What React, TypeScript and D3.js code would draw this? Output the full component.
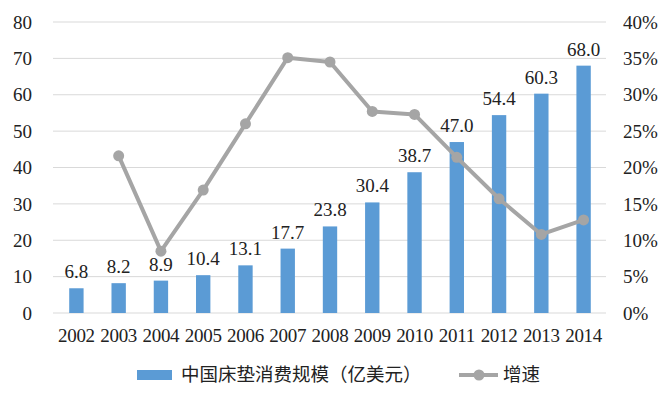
import React, { useEffect, useRef } from 'react';
import * as d3 from 'd3';

const years = ['2002', '2003', '2004', '2005', '2006', '2007', '2008', '2009', '2010', '2011', '2012', '2013', '2014'];
const scale = [6.8, 8.2, 8.9, 10.4, 13.1, 17.7, 23.8, 30.4, 38.7, 47.0, 54.4, 60.3, 68.0];
const growth: (number | null)[] = [null, 21.6, 8.5, 16.9, 26.0, 35.1, 34.5, 27.7, 27.3, 21.4, 15.7, 10.8, 12.8];
const leftTicks = [0, 10, 20, 30, 40, 50, 60, 70, 80];
const rightTicks = [0, 5, 10, 15, 20, 25, 30, 35, 40];
const barName = '中国床垫消费规模（亿美元）';
const lineName = '增速';

const W = 662;
const H = 394;
const BLUE = '#5b9bd5';
const GREY = '#a5a5a5';
const SERIF = "'Liberation Serif', 'DejaVu Serif', serif";
const CJK = "'Noto Sans CJK SC', sans-serif";

export default function App() {
  const ref = useRef<SVGSVGElement>(null);

  useEffect(() => {
    if (!ref.current) return;
    const svg = d3.select(ref.current);
    svg.selectAll('*').remove();

    const margin = { top: 22, right: 56, bottom: 81, left: 54 };
    const w = W - margin.left - margin.right;
    const h = H - margin.top - margin.bottom;

    const x = d3.scaleBand().domain(years).range([0, w]).paddingInner(0.66).paddingOuter(0.36);
    const y = d3.scaleLinear().domain([0, 80]).range([h, 0]);
    const y2 = d3.scaleLinear().domain([0, 40]).range([h, 0]);

    const g = svg.append('g').attr('transform', `translate(${margin.left},${margin.top})`);

    // grid
    g.selectAll('.grid')
      .data(leftTicks)
      .join('line')
      .attr('x1', -1).attr('x2', w)
      .attr('y1', (d) => y(d)).attr('y2', (d) => y(d))
      .attr('stroke', '#d9d9d9')
      .attr('stroke-width', 1);

    // left ticks
    g.selectAll('.lt')
      .data(leftTicks)
      .join('text')
      .attr('x', -22)
      .attr('y', (d) => y(d))
      .attr('dy', '0.35em')
      .attr('text-anchor', 'end')
      .style('font-family', SERIF)
      .style('font-size', '19px')
      .attr('fill', '#222')
      .text((d) => String(d));

    // right ticks
    g.selectAll('.rt')
      .data(rightTicks)
      .join('text')
      .attr('x', w + 17)
      .attr('y', (d) => y2(d))
      .attr('dy', '0.35em')
      .attr('text-anchor', 'start')
      .style('font-family', SERIF)
      .style('font-size', '19px')
      .attr('fill', '#222')
      .text((d) => `${d}%`);

    // bars
    g.selectAll('.bar')
      .data(scale)
      .join('rect')
      .attr('x', (_, i) => x(years[i])!)
      .attr('y', (d) => y(d))
      .attr('width', x.bandwidth())
      .attr('height', (d) => h - y(d))
      .attr('fill', BLUE);

    // bar labels
    g.selectAll('.val')
      .data(scale)
      .join('text')
      .attr('x', (_, i) => x(years[i])! + x.bandwidth() / 2)
      .attr('y', (d) => y(d) - 10)
      .attr('text-anchor', 'middle')
      .style('font-family', SERIF)
      .style('font-size', '19px')
      .attr('fill', '#222')
      .text((d) => d.toFixed(1));

    // year labels
    g.selectAll('.yr')
      .data(years)
      .join('text')
      .attr('x', (d) => x(d)! + x.bandwidth() / 2)
      .attr('y', h + 29)
      .attr('text-anchor', 'middle')
      .style('font-family', SERIF)
      .style('font-size', '19px')
      .style('letter-spacing', '-0.3px')
      .attr('fill', '#222')
      .text((d) => d);

    // growth line
    const pts = years
      .map((yr, i) => ({ yr, v: growth[i] }))
      .filter((d) => d.v !== null) as { yr: string; v: number }[];
    const line = d3.line<{ yr: string; v: number }>()
      .x((d) => x(d.yr)! + x.bandwidth() / 2)
      .y((d) => y2(d.v));
    g.append('path')
      .datum(pts)
      .attr('d', line)
      .attr('fill', 'none')
      .attr('stroke', GREY)
      .attr('stroke-width', 4)
      .attr('stroke-linejoin', 'round');
    g.selectAll('.pt')
      .data(pts)
      .join('circle')
      .attr('cx', (d) => x(d.yr)! + x.bandwidth() / 2)
      .attr('cy', (d) => y2(d.v))
      .attr('r', 5.5)
      .attr('fill', GREY);

    // legend
    const lg = svg.append('g').attr('transform', `translate(0,375)`);
    lg.append('rect').attr('x', 137).attr('y', -5).attr('width', 35).attr('height', 10).attr('fill', BLUE);
    lg.append('text')
      .attr('x', 181).attr('y', 0).attr('dy', '0.35em')
      .style('font-family', CJK).style('font-size', '18.5px').attr('fill', '#222')
      .text(barName);
    lg.append('line').attr('x1', 459).attr('x2', 498).attr('y1', 0).attr('y2', 0)
      .attr('stroke', GREY).attr('stroke-width', 4);
    lg.append('circle').attr('cx', 479).attr('cy', 0).attr('r', 5.5).attr('fill', GREY);
    lg.append('text')
      .attr('x', 503).attr('y', 0).attr('dy', '0.35em')
      .style('font-family', CJK).style('font-size', '18.5px').attr('fill', '#222')
      .text(lineName);
  }, []);

  return (
    <svg
      ref={ref}
      width={W}
      height={H}
      style={{ position: 'absolute', left: 0, top: 0, background: '#fff' }}
    />
  );
}
